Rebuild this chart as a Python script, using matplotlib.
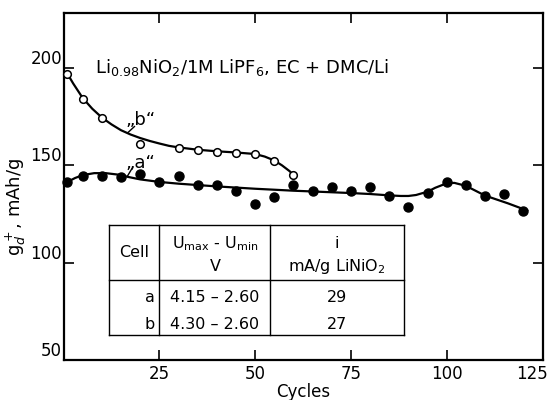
import matplotlib
matplotlib.use("Agg")
import numpy as np
import matplotlib.pyplot as plt
from matplotlib.transforms import ScaledTranslation

# cell "b" (open circles), 4.30 - 2.60 V
cycles_b = [1, 5, 10, 20, 30, 35, 40, 45, 50, 55, 60]
cap_b = [197, 184, 174.5, 161, 159, 158, 157, 156.5, 156, 152, 145]

# cell "a" (filled circles), 4.15 - 2.60 V
cycles_a = [1, 5, 10, 15, 20, 25, 30, 35, 40, 45, 50, 55, 60, 65, 70, 75, 80,
            85, 90, 95, 100, 105, 110, 115, 120]
cap_a = [141.3, 144.7, 144.7, 144.2, 145.6, 141.6, 144.7, 140.1, 140.1, 136.7,
         130.2, 133.9, 140.1, 136.7, 138.7, 136.7, 138.7, 134.4, 128.5, 136.0,
         141.3, 139.8, 134.3, 135.1, 126.7]

# hand drawn fit curves
fit_b_x = [1, 2.5, 5, 7.5, 10, 12.5, 15, 17.5, 20, 22.5, 25, 27.5, 30, 35, 40,
           45, 50, 52.5, 55, 57, 59, 60]
fit_b_y = [197, 192, 184.5, 179, 174.5, 171, 168, 165.8, 164, 162.5, 161.2, 160,
           159.2, 158, 157.2, 156.6, 155.8, 154.5, 152.5, 150, 147, 145]
fit_a_x = [1, 3, 5, 8, 11, 14, 17, 20, 25, 30, 35, 40, 45, 50, 55, 60, 65, 70,
           75, 80, 85, 88, 90, 92, 95, 97, 100, 102, 105, 108, 110, 113, 116,
           119, 121]
fit_a_y = [141.5, 143.5, 145, 146, 146, 145.3, 144, 142.8, 141.5, 140.6, 139.9,
           139.2, 138.6, 138, 137.5, 137, 136.6, 136.2, 135.8, 135.3, 134.6,
           134.3, 134.3, 134.8, 136.5, 138.5, 140.8, 141, 139.5, 136.5, 134.5,
           132.5, 130.5, 128.3, 126.8]

# inset table
tab_cells = ["a", "b"]
tab_volt = ["4.15 \u2013 2.60", "4.30 \u2013 2.60"]
tab_curr = ["29", "27"]

x_ticks = [25, 50, 75, 100, 125]
y_ticks = [50, 100, 150, 200]


def main():
    fig = plt.figure(figsize=(5.48, 4.0), dpi=100)
    ax = fig.add_axes([0.116, 0.099, 0.874, 0.868])

    ax.plot(fit_b_x, fit_b_y, color="black", lw=1.6, zorder=2)
    ax.plot(fit_a_x, fit_a_y, color="black", lw=1.6, zorder=2)
    ax.plot(cycles_b, cap_b, "o", ms=5.5, mfc="white", mec="black", mew=1.1,
            zorder=3, clip_on=False)
    ax.plot(cycles_a, cap_a, "o", ms=6.5, mfc="black", mec="black", zorder=3,
            clip_on=False)

    ax.set_xlim(0, 125)
    ax.set_ylim(50, 228)
    ax.set_xticks(x_ticks)
    ax.set_yticks(y_ticks)
    ax.tick_params(direction="in", length=7, width=1.2, top=True, right=True,
                   labelsize=12)
    ax.tick_params(axis="x", pad=3)
    ax.tick_params(axis="y", pad=1)
    for lbl in ax.get_yticklabels():
        lbl.set_va("bottom")
    # last x label is pulled in so it stays inside the figure
    last = ax.get_xticklabels()[-1]
    last.set_ha("right")
    last.set_transform(last.get_transform() +
                       ScaledTranslation(4 / 72, 0, fig.dpi_scale_trans))
    for sp in ax.spines.values():
        sp.set_linewidth(1.6)

    ax.set_xlabel("Cycles", fontsize=12, labelpad=0)
    ax.set_ylabel(r"$\mathrm{g}_d^+$, mAh/g", fontsize=13)
    ax.yaxis.set_label_coords(-0.074, 0.442)

    ax.text(8.2, 200, r"Li$_{0.98}$NiO$_2$/1M LiPF$_6$, EC + DMC/Li",
            fontsize=13, va="center", ha="left")

    # curve labels with short leader lines
    ax.text(20, 173.5, "\u201eb\u201c", fontsize=13, ha="center", va="center")
    ax.plot([18.5, 16.9], [169.9, 167.0], color="black", lw=1)
    ax.text(20, 151, "\u201ea\u201c", fontsize=13, ha="center", va="center")
    ax.plot([17.9, 16.7], [148.5, 144.6], color="black", lw=1)

    # table frame
    left, c1, c2, right = 11.8, 25.0, 54.0, 88.8
    top, mid, bottom = 119.4, 91.0, 62.8
    for yy in [top, mid, bottom]:
        ax.plot([left, right], [yy, yy], color="black", lw=1)
    for xx in [left, c1, c2, right]:
        ax.plot([xx, xx], [bottom, top], color="black", lw=1)

    fs = 11.5
    ax.text((left + c1) / 2, (top + mid) / 2, "Cell", fontsize=fs,
            ha="center", va="center")
    ax.text((c1 + c2) / 2, 110, r"U$_{\mathrm{max}}$ - U$_{\mathrm{min}}$",
            fontsize=fs, ha="center", va="center")
    ax.text((c1 + c2) / 2, 98, "V", fontsize=fs, ha="center", va="center")
    ax.text((c2 + right) / 2, 110, "i", fontsize=fs, ha="center", va="center")
    ax.text((c2 + right) / 2, 98, r"mA/g LiNiO$_2$", fontsize=fs,
            ha="center", va="center")
    row_y = [82.5, 68.5]
    for k in range(len(tab_cells)):
        ax.text(c1 - 1.2, row_y[k], tab_cells[k], fontsize=fs, ha="right",
                va="center")
        ax.text((c1 + c2) / 2, row_y[k], tab_volt[k], fontsize=fs,
                ha="center", va="center")
        ax.text((c2 + right) / 2, row_y[k], tab_curr[k], fontsize=fs,
                ha="center", va="center")

    fig.savefig("out.png", dpi=100)


if __name__ == "__main__":
    main()
